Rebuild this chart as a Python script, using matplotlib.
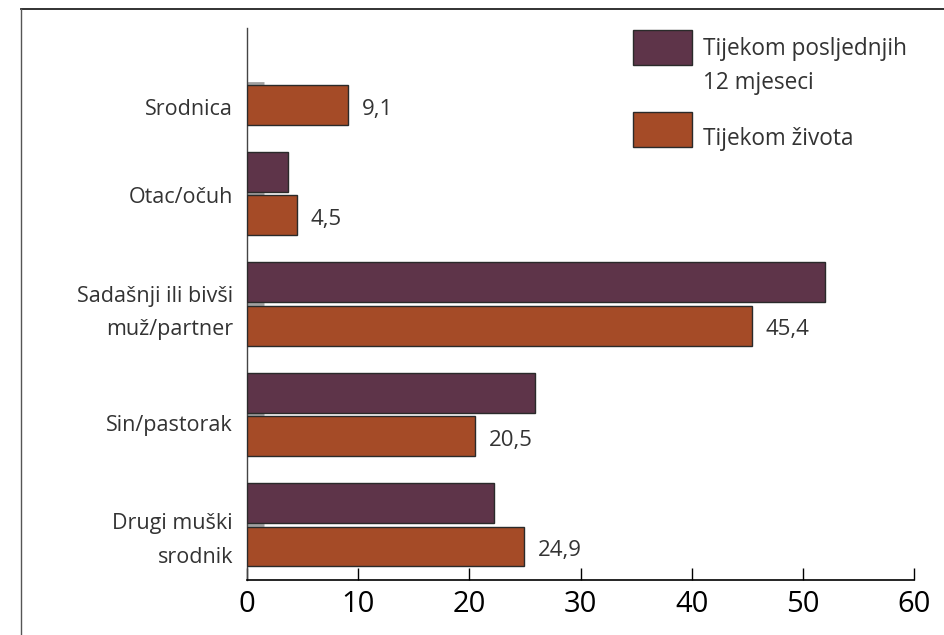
import matplotlib
matplotlib.use("Agg")
import matplotlib.pyplot as plt
import matplotlib.transforms as mtransforms
from matplotlib.patches import Rectangle
import numpy as np

plt.rcParams['font.family'] = ['Open Sans', 'DejaVu Sans']

categories = ["Srodnica", "Otac/očuh", "Sadašnji ili bivši\nmuž/partner",
              "Sin/pastorak", "Drugi muški\nsrodnik"]
last12 = [0, 3.7, 52.0, 25.9, 22.2]
lifetime = [9.1, 4.5, 45.4, 20.5, 24.9]
value_labels = ["9,1", "4,5", "45,4", "20,5", "24,9"]
series_names = ["Tijekom posljednjih\n12 mjeseci", "Tijekom života"]
xticks = [0, 10, 20, 30, 40, 50, 60]

purple = "#5e3449"
rust = "#a54b27"
text_col = "#333333"

fig = plt.figure(figsize=(9.44, 6.35), dpi=100)
ax = fig.add_axes([247/944, 1-580/635, (914-247)/944, (580-28)/635])

y = np.arange(len(categories))
h = 0.36
off = 0.197
b1 = ax.barh(y - off, last12, height=h, color=purple, edgecolor="#2a2a2a", linewidth=1.0, zorder=3)
b2 = ax.barh(y + off, lifetime, height=h, color=rust, edgecolor="#2a2a2a", linewidth=1.0, zorder=3)
for bar, v in zip(b1, last12):
    if v == 0:
        bar.set_linewidth(0)

for yi, v, lab in zip(y, lifetime, value_labels):
    ax.annotate(lab, (v, yi + off), xytext=(10, -3), textcoords="offset points",
                ha="left", va="center", fontsize=16, color=text_col)

ax.set_xlim(0, 60)
ax.set_ylim(4.5, -0.5)
ax.set_xticks(xticks)
ax.set_xticklabels([str(t) for t in xticks], fontsize=21, color="black")
ax.tick_params(axis="x", direction="in", length=9, width=1.0, color="black", pad=7)
ax.set_yticks(y)
ax.set_yticklabels(categories, fontsize=15.5, color=text_col, linespacing=1.8)
ax.tick_params(axis="y", direction="in", length=12, width=2, color="#a0a0a0", pad=10)

# per-label vertical nudges (points) to match reference placement
nudges = [-17, -1, 0, -6, -5]
for lbl, dy in zip(ax.get_yticklabels(), nudges):
    lbl.set_transform(lbl.get_transform() + mtransforms.ScaledTranslation(0, dy/72, fig.dpi_scale_trans))

for s in ["top", "right"]:
    ax.spines[s].set_visible(False)
ax.spines["left"].set_color("#444444")
ax.spines["left"].set_linewidth(1.0)
ax.spines["bottom"].set_color("black")
ax.spines["bottom"].set_linewidth(1.2)

# outer frame (top and left)
fig.add_artist(plt.Line2D([21/944, 1], [1-9/635, 1-9/635], transform=fig.transFigure, color="#222222", lw=1.3))
fig.add_artist(plt.Line2D([21/944, 21/944], [1-9/635, 0], transform=fig.transFigure, color="#555555", lw=1.0))

# legend
legend_rows = [(30, purple, series_names[0], 66, "center"), (112, rust, series_names[1], 139, "center")]
for (ytop, col, name, ty, va) in legend_rows:
    fig.add_artist(Rectangle((633/944, 1-(ytop+35)/635), 59/944, 35/635, transform=fig.transFigure,
                             facecolor=col, edgecolor="#2a2a2a", lw=1.0))
    fig.text(703/944, 1-ty/635, name, va=va, ha="left", fontsize=16.3, color=text_col, linespacing=1.55)

fig.savefig("out.png", dpi=100)
